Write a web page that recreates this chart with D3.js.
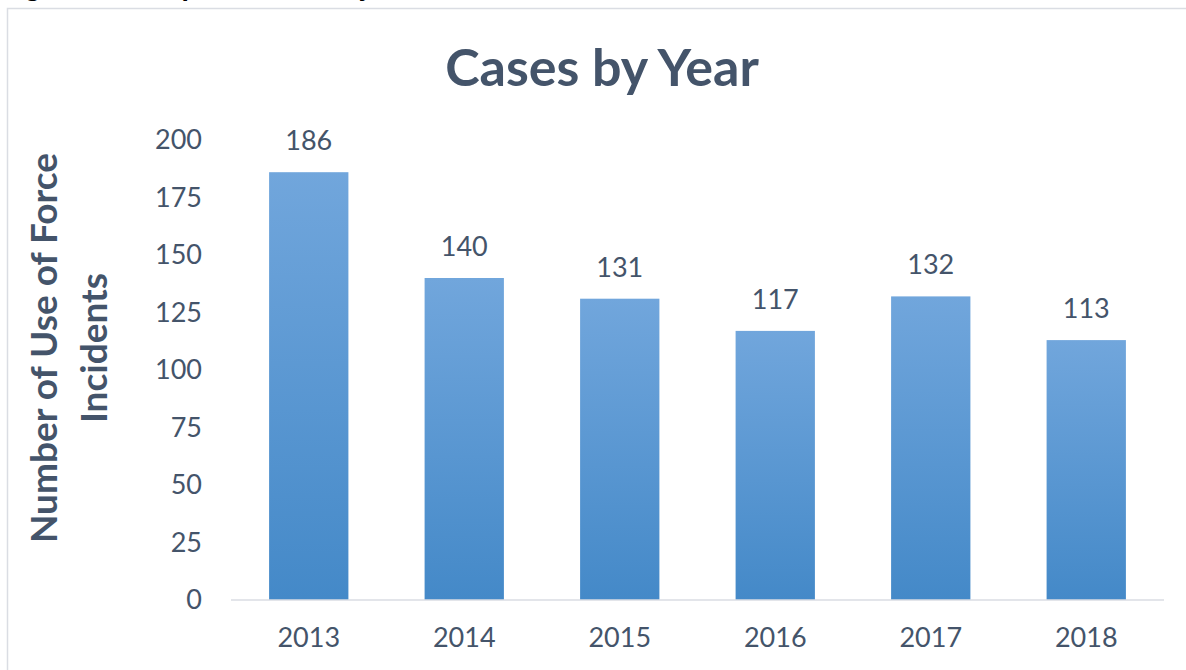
<!DOCTYPE html>
<html>
<head>
<meta charset="utf-8">
<title>Cases by Year</title>
<script src="https://d3js.org/d3.v7.min.js"></script>
<style>
  body { margin: 0; background: #fff; }
  .axis text { font-family: Lato, sans-serif; font-size: 27px; fill: #44546A; }
  .valLabel { font-family: Lato, sans-serif; font-size: 27px; fill: #44546A; text-anchor: middle; }
</style>
</head>
<body>
<script>
var years = ["2013", "2014", "2015", "2016", "2017", "2018"];
var cases = [186, 140, 131, 117, 132, 113];
var yTicks = [0, 25, 50, 75, 100, 125, 150, 175, 200];

var width = 1186, height = 670;
var padding = {left: 231, right: 22, top: 140, bottom: 70};

var svg = d3.select("body").append("svg")
  .attr("width", width)
  .attr("height", height);

// gradient for bars
var grad = svg.append("defs").append("linearGradient")
  .attr("id", "barGrad")
  .attr("x1", 0).attr("y1", 0).attr("x2", 0).attr("y2", 1);
grad.append("stop").attr("offset", "0%").attr("stop-color", "#71a6dc");
grad.append("stop").attr("offset", "100%").attr("stop-color", "#4489c8");

// caption of the page above the chart, mostly cut off like in the source
svg.append("text")
  .attr("x", 2)
  .attr("y", -5)
  .attr("font-family", "Liberation Serif, serif")
  .attr("font-weight", "bold")
  .attr("font-style", "italic")
  .attr("font-size", 28)
  .attr("fill", "#000")
  .text("Figure 1: Use of Force Cases by Year");

// chart frame
svg.append("rect")
  .attr("x", 7.5).attr("y", 8.5)
  .attr("width", 1200).attr("height", 700)
  .attr("fill", "none")
  .attr("stroke", "#dadde3")
  .attr("stroke-width", 1.5);

var xScale = d3.scaleBand()
  .domain(years)
  .range([padding.left, width - padding.right])
  .paddingInner(0.49)
  .paddingOuter(0.245);

var yScale = d3.scaleLinear()
  .domain([0, 200])
  .range([height - padding.bottom, padding.top]);

// title
svg.append("text")
  .attr("x", 602)
  .attr("y", 86)
  .attr("text-anchor", "middle")
  .attr("font-family", "Lato, sans-serif")
  .attr("font-weight", "bold")
  .attr("font-size", 52)
  .attr("fill", "#44546A")
  .text("Cases by Year");

// y axis title, two lines
var yTitle = svg.append("text")
  .attr("transform", "translate(70,348) rotate(-90)")
  .attr("text-anchor", "middle")
  .attr("font-family", "Lato, sans-serif")
  .attr("font-weight", "bold")
  .attr("font-size", 37)
  .attr("fill", "#44546A");
yTitle.append("tspan").attr("x", 0).attr("dy", "-0.35em").text("Number of Use of Force");
yTitle.append("tspan").attr("x", 0).attr("dy", "1.35em").text("Incidents");

// y axis
var yAxis = d3.axisLeft(yScale).tickValues(yTicks).tickSize(0).tickPadding(0);
svg.append("g")
  .attr("class", "axis")
  .attr("transform", "translate(202,0)")
  .call(yAxis)
  .call(function(g) { g.select(".domain").remove(); });

// bars
svg.selectAll(".bar")
  .data(cases)
  .enter()
  .append("rect")
  .attr("class", "bar")
  .attr("x", function(d, i) { return xScale(years[i]); })
  .attr("y", function(d) { return yScale(d); })
  .attr("width", xScale.bandwidth())
  .attr("height", function(d) { return yScale(0) - yScale(d); })
  .attr("fill", "url(#barGrad)");

// baseline
svg.append("line")
  .attr("x1", padding.left).attr("x2", width - padding.right)
  .attr("y1", yScale(0)).attr("y2", yScale(0))
  .attr("stroke", "#dadde3")
  .attr("stroke-width", 1.5);

// x axis labels
var xAxis = d3.axisBottom(xScale).tickSize(0).tickPadding(28);
svg.append("g")
  .attr("class", "axis")
  .attr("transform", "translate(0," + yScale(0) + ")")
  .call(xAxis)
  .call(function(g) { g.select(".domain").remove(); });

// value labels
svg.selectAll(".valLabel")
  .data(cases)
  .enter()
  .append("text")
  .attr("class", "valLabel")
  .attr("x", function(d, i) { return xScale(years[i]) + xScale.bandwidth() / 2; })
  .attr("y", function(d) { return yScale(d) - 22; })
  .text(function(d) { return d; });
</script>
</body>
</html>
